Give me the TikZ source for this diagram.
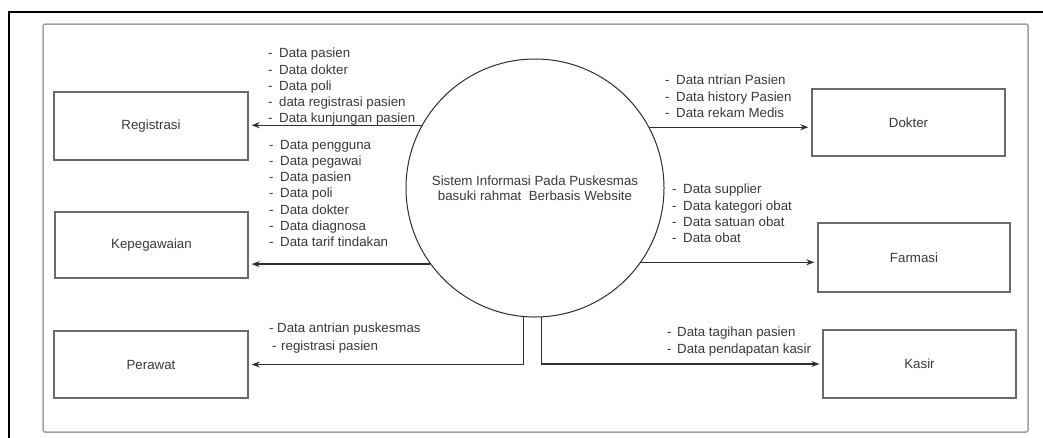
\documentclass[tikz,border=0pt]{standalone}
\usepackage{fontspec}
\setmainfont{Liberation Sans}
\usetikzlibrary{arrows.meta,calc}
\definecolor{txtc}{HTML}{3A3A3A}
\definecolor{boxc}{HTML}{6A6A6A}
\definecolor{framec}{HTML}{A0A0A0}
\definecolor{flowc}{HTML}{2E2E2E}
\newcommand{\dl}{\makebox[11pt][l]{-}}
\tikzset{
  entity/.style={draw=boxc, line width=1.3pt, inner sep=0pt, text=txtc,
    font=\fontsize{13.3}{16}\selectfont},
  process/.style={draw=flowc, line width=1pt, circle, inner sep=0pt, align=center,
    text=txtc, font=\fontsize{13.3}{15}\selectfont},
  flow/.style={draw=flowc, line width=1.3pt, -{Stealth[length=8pt,width=6pt]}, shorten >=3pt},
  lbl/.style={anchor=north west, align=left, inner sep=0pt, text=txtc,
    font=\fontsize{13.3}{16.2}\selectfont},
}
\begin{document}
\begin{tikzpicture}[x=1pt,y=-1pt]
\useasboundingbox (0,0) rectangle (1043,437);
\fill[white] (0,0) rectangle (1043,437);
% outer black frame
\draw[line width=2.6pt, black] (9,440) -- (9,12) -- (1046,12);
% inner gray frame
\draw[framec, line width=1.5pt, rounded corners=2pt] (43,24) rectangle (1028,432);

% external entities
\node[entity, minimum width=194pt, minimum height=68pt] (reg) at (151,126) {Registrasi};
\node[entity, minimum width=193pt, minimum height=66pt] (kep) at (151.5,245) {Kepegawaian};
\node[entity, minimum width=194pt, minimum height=67pt] (per) at (151,364.5) {Perawat};
\node[entity, minimum width=193pt, minimum height=67pt] (dok) at (908.5,122.5) {Dokter};
\node[entity, minimum width=192pt, minimum height=69pt] (far) at (914,257.5) {Farmasi};
\node[entity, minimum width=193pt, minimum height=68pt] (kas) at (919.5,364) {Kasir};

% process
\node[process, minimum size=258pt] (sys) at (535,188)
  {Sistem Informasi Pada Puskesmas\\basuki rahmat\ \ Berbasis Website};

% flows
\draw[flow] (sys.151.8) -- (sys.151.8 -| reg.east);
\draw[flow] (sys.216.1) -- (sys.216.1 -| kep.east);
\draw[flow] (sys.265.1) |- (per.east);
\draw[flow] (sys.28.7) -- (sys.28.7 -| dok.west);
\draw[flow] (sys.-35) -- (sys.-35 -| far.west);
\draw[flow] (sys.273.1) |- (kas.west);

% flow labels
\node[lbl] (lreg) at (268,48) {\dl Data pasien\\\dl Data dokter\\\dl Data poli\\\dl data registrasi pasien\\\dl Data kunjungan pasien};
\node[lbl] (lkep) at (269,140) {\dl Data pengguna\\\dl Data pegawai\\\dl Data pasien\\\dl Data poli\\\dl Data dokter\\\dl Data diagnosa\\\dl Data tarif tindakan};
\node[lbl, font=\fontsize{13.3}{17.7}\selectfont] (lper) at (269,323) {\makebox[8pt][l]{-}Data antrian puskesmas\\\hspace{3pt}\makebox[9pt][l]{-}registrasi pasien};
\node[lbl] (ldok) at (665,75) {\dl Data ntrian Pasien\\\dl Data history Pasien\\\dl Data rekam Medis};
\node[lbl] (lfar) at (672,184) {\dl Data supplier\\\dl Data kategori obat\\\dl Data satuan obat\\\dl Data obat};
\node[lbl, font=\fontsize{13.3}{16.7}\selectfont] (lkas) at (667,327) {\makebox[10pt][l]{-}Data tagihan pasien\\\makebox[10pt][l]{-}Data pendapatan kasir};
\end{tikzpicture}
\end{document}
